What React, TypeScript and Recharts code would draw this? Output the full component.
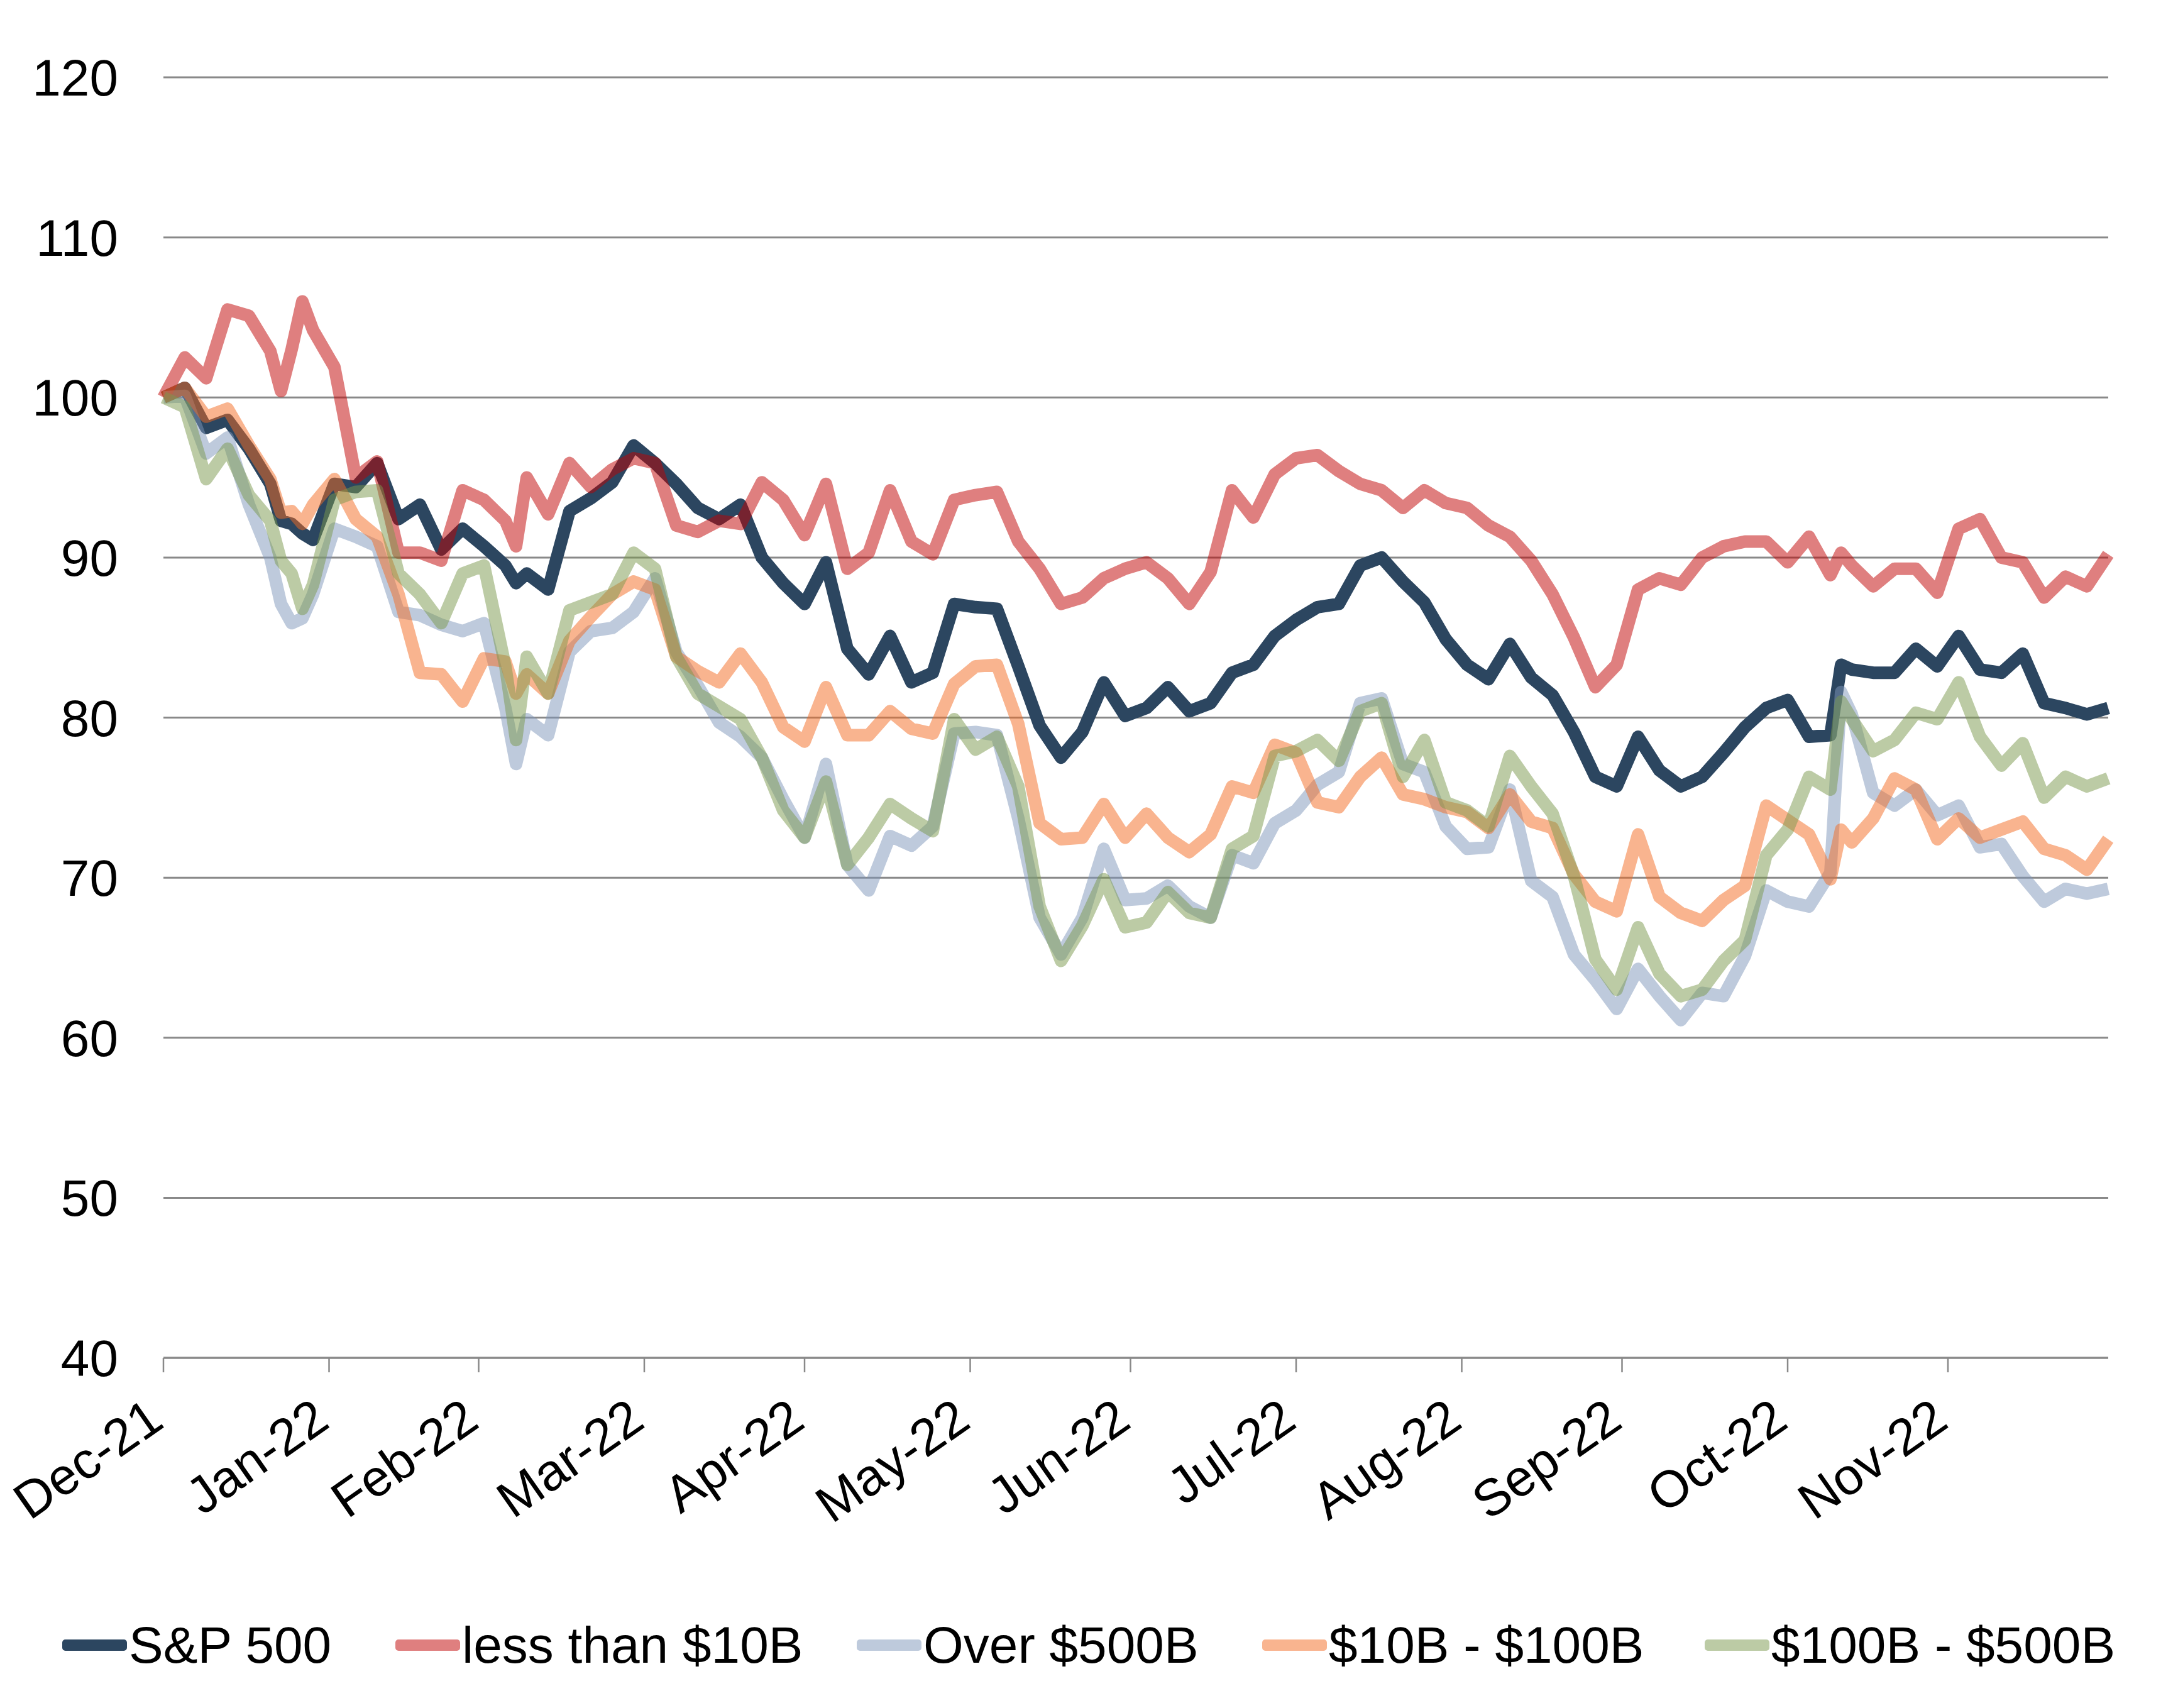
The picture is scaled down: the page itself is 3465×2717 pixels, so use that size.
import { CartesianGrid, Line, LineChart, XAxis, YAxis } from "recharts";

// days counted from 31 Dec 2021 (month-end ticks, Excel date axis)
const DAYS = [
  0, 4, 8, 12, 16, 20, 22, 24, 26, 28,
  32, 36, 40, 44, 48, 52, 56, 60, 64, 66,
  68, 72, 76, 80, 84, 88, 92, 96, 100, 104,
  108, 112, 116, 120, 124, 128, 132, 136, 140, 144,
  148, 152, 156, 160, 164, 168, 172, 176, 180, 184,
  188, 192, 196, 200, 204, 208, 212, 216, 220, 224,
  228, 232, 236, 240, 244, 248, 252, 256, 260, 264,
  268, 272, 276, 280, 284, 288, 292, 296, 300, 304,
  308, 312, 314, 316, 320, 324, 328, 332, 336, 340,
  344, 348, 352, 356, 360, 364,
];

const SP500 = [
  100, 100.6, 98.1, 98.6, 96.8, 94.6, 92.3, 92.1, 91.5, 91.1,
  94.6, 94.4, 95.9, 92.4, 93.3, 90.5, 91.8, 90.7, 89.5, 88.4,
  89.0, 88.0, 92.9, 93.7, 94.7, 97.0, 95.9, 94.6, 93.1, 92.4,
  93.3, 90.0, 88.4, 87.1, 89.7, 84.3, 82.7, 85.1, 82.2, 82.8,
  87.1, 86.9, 86.8, 83.2, 79.5, 77.5, 79.1, 82.2, 80.1, 80.6,
  81.9, 80.4, 80.9, 82.8, 83.3, 85.1, 86.1, 86.9, 87.1, 89.5,
  90.0, 88.5, 87.2, 84.9, 83.3, 82.4, 84.6, 82.5, 81.4, 79.1,
  76.3, 75.7, 78.8, 76.7, 75.7, 76.3, 77.8, 79.4, 80.6, 81.1,
  78.8, 78.9, 83.3, 83.0, 82.8, 82.8, 84.3, 83.2, 85.1, 83.0,
  82.8, 84.0, 80.9, 80.6, 80.2, 80.6,
];

const UNDER_10B = [
  100, 102.5, 101.2, 105.5, 105.1, 102.9, 100.4, 103.0, 106.0, 104.2,
  101.9, 95.0, 96.0, 90.3, 90.3, 89.8, 94.2, 93.6, 92.3, 90.7,
  95.0, 92.7, 95.9, 94.4, 95.5, 96.2, 95.9, 92.0, 91.6, 92.3,
  92.1, 94.7, 93.6, 91.4, 94.6, 89.3, 90.3, 94.2, 91.0, 90.2,
  93.6, 93.9, 94.1, 91.0, 89.3, 87.1, 87.5, 88.7, 89.3, 89.7,
  88.7, 87.1, 89.1, 94.2, 92.5, 95.2, 96.2, 96.4, 95.4, 94.6,
  94.2, 93.1, 94.2, 93.4, 93.1, 92.0, 91.3, 89.8, 87.7, 85.0,
  81.9, 83.3, 88.0, 88.7, 88.3, 90.0, 90.7, 91.0, 91.0, 89.7,
  91.3, 88.9, 90.3, 89.5, 88.2, 89.3, 89.3, 87.8, 91.8, 92.4,
  90.0, 89.7, 87.5, 88.8, 88.2, 90.2,
];

const OVER_500B = [
  100, 100.1, 96.5, 97.5, 93.3, 90.0, 87.1, 85.9, 86.2, 87.7,
  91.8, 91.3, 90.7, 86.6, 86.4, 85.8, 85.4, 85.9, 80.6, 77.1,
  79.9, 78.9, 84.1, 85.4, 85.6, 86.6, 88.7, 84.1, 82.0, 79.7,
  78.8, 77.5, 74.9, 72.5, 77.1, 70.8, 69.2, 72.6, 72.0, 73.2,
  79.0, 79.1, 78.9, 73.7, 67.5, 65.2, 67.5, 71.8, 68.6, 68.7,
  69.5, 68.2, 67.5, 71.4, 70.9, 73.4, 74.2, 75.8, 76.6, 80.9,
  81.2, 77.1, 76.6, 73.2, 71.8, 71.9, 75.5, 69.8, 68.8, 65.2,
  63.6, 61.8, 64.3, 62.6, 61.1, 62.8, 62.6, 65.1, 69.2, 68.5,
  68.2, 70.3, 81.6, 80.2, 75.3, 74.5, 75.5, 73.9, 74.5, 71.9,
  72.1, 70.1, 68.5, 69.3, 69.0, 69.3,
];

const B10_100 = [
  100, 100.6, 98.8, 99.3, 97.0, 94.9, 92.8, 92.9, 92.1, 93.3,
  94.9, 92.4, 91.3, 87.7, 82.8, 82.7, 81.0, 83.7, 83.5, 81.5,
  82.7, 81.5, 84.8, 86.3, 87.7, 88.5, 88.0, 83.8, 82.9, 82.2,
  84.0, 82.2, 79.4, 78.5, 81.9, 78.9, 78.9, 80.4, 79.3, 79.0,
  82.1, 83.2, 83.3, 79.6, 73.4, 72.4, 72.5, 74.6, 72.5, 74.0,
  72.5, 71.6, 72.7, 75.7, 75.3, 78.3, 77.8, 74.7, 74.4, 76.3,
  77.5, 75.2, 74.9, 74.4, 74.1, 73.1, 75.2, 73.5, 73.1, 70.2,
  68.5, 67.9, 72.7, 68.8, 67.8, 67.3, 68.6, 69.5, 74.5, 73.6,
  72.7, 69.9, 73.0, 72.2, 73.7, 76.2, 75.5, 72.4, 73.7, 72.5,
  73.0, 73.5, 71.8, 71.4, 70.5, 72.4,
];

const B100_500 = [
  100, 99.4, 94.9, 96.8, 93.9, 92.3, 89.8, 89.0, 86.8, 88.3,
  93.6, 94.1, 94.2, 89.0, 87.7, 85.9, 89.0, 89.5, 83.2, 78.6,
  83.8, 81.5, 86.7, 87.2, 87.7, 90.3, 89.3, 83.8, 81.5, 80.7,
  79.9, 77.5, 74.2, 72.5, 76.0, 70.8, 72.5, 74.6, 73.7, 72.9,
  79.9, 78.0, 78.8, 75.7, 68.2, 64.8, 67.0, 69.9, 66.9, 67.2,
  69.1, 67.8, 67.5, 71.8, 72.6, 77.6, 77.9, 78.6, 77.3, 80.4,
  80.9, 76.3, 78.6, 74.7, 74.2, 73.2, 77.6, 75.7, 74.0, 70.1,
  64.9, 63.0, 66.9, 64.0, 62.6, 63.0, 64.8, 66.1, 71.4, 73.0,
  76.3, 75.5, 81.0, 79.9, 77.9, 78.6, 80.3, 79.9, 82.2, 78.8,
  77.0, 78.4, 75.0, 76.3, 75.7, 76.2,
];

const MONTH_TICKS = [0, 31, 59, 90, 120, 151, 181, 212, 243, 273, 304, 334];
const MONTH_LABELS = [
  "Dec-21", "Jan-22", "Feb-22", "Mar-22", "Apr-22", "May-22",
  "Jun-22", "Jul-22", "Aug-22", "Sep-22", "Oct-22", "Nov-22",
];
const Y_TICKS = [40, 50, 60, 70, 80, 90, 100, 110, 120];

const FONT = "'Liberation Sans', Arial, sans-serif";

const SERIES = [
  { key: "sp", name: "S&P 500", values: SP500, color: "#2C4660", opacity: 1 },
  { key: "u10", name: "less than $10B", values: UNDER_10B, color: "#C00000", opacity: 0.5 },
  { key: "o500", name: "Over $500B", values: OVER_500B, color: "#7D96B9", opacity: 0.5 },
  { key: "b10", name: "$10B - $100B", values: B10_100, color: "#F46A1F", opacity: 0.5 },
  { key: "b100", name: "$100B - $500B", values: B100_500, color: "#79974B", opacity: 0.5 },
];

const rows = DAYS.map((day, i) => {
  const r: Record<string, number> = { day };
  SERIES.forEach((s) => (r[s.key] = s.values[i]));
  return r;
});

// legend item left edges (px)
const LEGEND_X = [99, 629, 1363, 2008, 2712];

function MonthTick(props: any) {
  const { x, y, payload } = props;
  const label = MONTH_LABELS[MONTH_TICKS.indexOf(payload.value)] ?? "";
  return (
    <g transform={`translate(${x + 4},${y + 85})`}>
      <text
        textAnchor="end"
        transform="rotate(-35)"
        fontSize={82}
        fontFamily={FONT}
        fill="#000"
      >
        {label}
      </text>
    </g>
  );
}

function ValueTick(props: any) {
  const { y, payload } = props;
  return (
    <text
      x={188}
      y={y}
      dy="0.355em"
      textAnchor="end"
      fontSize={82}
      fontFamily={FONT}
      fill="#000"
    >
      {payload.value}
    </text>
  );
}

export default function App() {
  return (
    <div
      style={{
        position: "absolute",
        left: 0,
        top: 0,
        width: 3465,
        height: 2717,
        background: "#fff",
        fontFamily: FONT,
      }}
    >
      <LineChart
        width={3465}
        height={2717}
        data={rows}
        margin={{ top: 123, right: 111, bottom: 257, left: 0 }}
      >
        <CartesianGrid vertical={false} stroke="#898989" strokeWidth={3} />
        <XAxis
          dataKey="day"
          type="number"
          domain={[0, 364]}
          ticks={MONTH_TICKS}
          interval={0}
          height={300}
          axisLine={{ stroke: "#898989", strokeWidth: 3 }}
          tickLine={{ stroke: "#898989", strokeWidth: 2.5 }}
          tickSize={23}
          tickMargin={0}
          tick={<MonthTick />}
        />
        <YAxis
          type="number"
          domain={[40, 120]}
          ticks={Y_TICKS}
          interval={0}
          width={260}
          axisLine={false}
          tickLine={false}
          tick={<ValueTick />}
        />
        {SERIES.map((s) => (
          <Line
            key={s.key}
            dataKey={s.key}
            name={s.name}
            type="linear"
            stroke={s.color}
            strokeOpacity={s.opacity}
            strokeWidth={20}
            strokeLinejoin="round"
            dot={false}
            activeDot={false}
            isAnimationActive={false}
          />
        ))}
      </LineChart>

      {SERIES.map((s, i) => (
        <div
          key={s.key}
          style={{
            position: "absolute",
            left: LEGEND_X[i],
            top: 2567,
            height: 100,
            display: "flex",
            alignItems: "center",
            whiteSpace: "nowrap",
          }}
        >
          <svg width={103} height={18} style={{ display: "block" }}>
            <rect
              x={0}
              y={0}
              width={103}
              height={18}
              rx={5}
              fill={s.color}
              fillOpacity={s.opacity}
            />
          </svg>
          <span style={{ marginLeft: 3, fontSize: 82, color: "#000", lineHeight: 1 }}>
            {s.name}
          </span>
        </div>
      ))}
    </div>
  );
}
